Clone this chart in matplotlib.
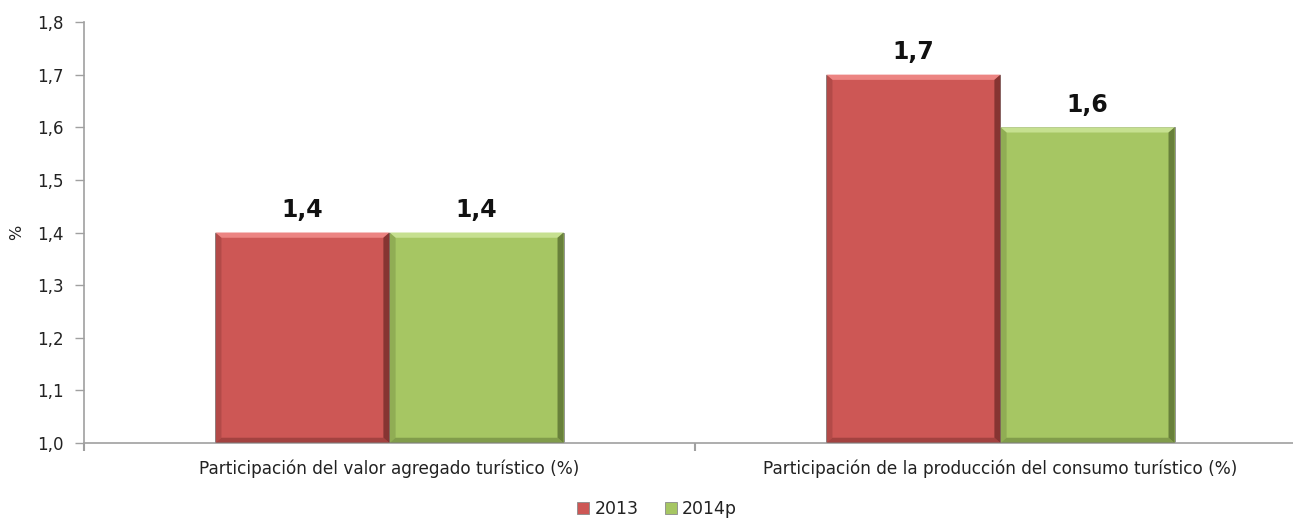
import matplotlib
matplotlib.use("Agg")
import matplotlib.pyplot as plt
import numpy as np
from matplotlib.ticker import FuncFormatter, FixedLocator
from matplotlib.patches import Polygon

categories = ["Participación del valor agregado turístico (%)",
              "Participación de la producción del consumo turístico (%)"]
series_names = ["2013", "2014p"]
values_2013 = [1.4, 1.7]
values_2014 = [1.4, 1.6]
yticks = [1.0, 1.1, 1.2, 1.3, 1.4, 1.5, 1.6, 1.7, 1.8]

W, H = 1293, 519
fig = plt.figure(figsize=(W / 100, H / 100), dpi=100)
left_px, right_px, top_px, bot_px = 84, 1306, 22, 443
ax = fig.add_axes([left_px / W, 1 - bot_px / H, (right_px - left_px) / W, (bot_px - top_px) / H])

colors = ["#CD5755", "#A6C663"]
edge_dark = ["#7A2E2C", "#5E7434"]
top_light = ["#EC8482", "#C6E090"]
bw = 0.285
x = np.arange(len(categories))

for i, (vals, c, ed, tl, name) in enumerate(zip([values_2013, values_2014], colors, edge_dark, top_light, series_names)):
    xs = x + (i - 0.5) * bw
    bars = ax.bar(xs, np.array(vals) - 1.0, bottom=1.0, width=bw, color=c,
                  edgecolor="#8a8a8a", linewidth=0.6, label=name, zorder=2)
    for b, v in zip(bars, vals):
        x0, x1 = b.get_x(), b.get_x() + b.get_width()
        y0, y1 = 1.0, v
        dx = 0.010
        dy = 0.010
        ax.add_patch(Polygon([(x0, y1), (x1, y1), (x1 - dx, y1 - dy), (x0 + dx, y1 - dy)],
                             closed=True, color=tl, lw=0, zorder=3))
        ax.add_patch(Polygon([(x1, y1), (x1, y0), (x1 - dx, y0 + dy), (x1 - dx, y1 - dy)],
                             closed=True, color=ed, lw=0, zorder=3, alpha=0.85))
        ax.add_patch(Polygon([(x0, y0), (x1, y0), (x1 - dx, y0 + dy), (x0 + dx, y0 + dy)],
                             closed=True, color=ed, lw=0, zorder=3, alpha=0.5))
        ax.add_patch(Polygon([(x0, y0), (x0, y1), (x0 + dx, y1 - dy), (x0 + dx, y0 + dy)],
                             closed=True, color=ed, lw=0, zorder=3, alpha=0.3))
        ax.text(b.get_x() + b.get_width() / 2, v + 0.029, f"{v:.1f}".replace(".", ","),
                ha="center", va="baseline", fontsize=17, fontweight="bold",
                family="DejaVu Sans", color="#111111")

ax.set_xlim(-0.5, 1.5)
ax.set_ylim(1.0, 1.8)
ax.set_yticks(yticks)
ax.yaxis.set_major_formatter(FuncFormatter(lambda v, p: f"{v:.1f}".replace(".", ",")))
ax.tick_params(axis="y", direction="out", length=6.5, width=1, color="#a0a0a0",
               labelsize=12, labelcolor="#222222", pad=8)
ax.xaxis.set_major_locator(FixedLocator([-0.5, 0.5, 1.5]))
ax.set_xticklabels([])
ax.xaxis.set_minor_locator(FixedLocator(list(x)))
ax.set_xticklabels(categories, minor=True)
ax.tick_params(axis="x", which="major", direction="out", length=6, width=1.5, color="#a0a0a0")
ax.tick_params(axis="x", which="minor", length=0, labelsize=12.2, labelcolor="#222222", pad=12)
for lbl in ax.get_xticklabels(minor=True):
    lbl.set_family("DejaVu Sans")

for s in ["top", "right"]:
    ax.spines[s].set_visible(False)
for s in ["left", "bottom"]:
    ax.spines[s].set_color("#a0a0a0")
    ax.spines[s].set_linewidth(1.2)

fig.text(17 / W, 1 - 232 / H, "%", rotation=90, ha="center", va="center", fontsize=11.5, color="#222222")

leg = fig.legend(loc="center", bbox_to_anchor=(657 / W, 1 - 509 / H), ncol=2, frameon=False,
                 fontsize=12.5, handlelength=0.7, handleheight=0.7, handletextpad=0.3, columnspacing=1.5)
for t in leg.get_texts():
    t.set_color("#222222")

fig.savefig("out.png", dpi=100)
